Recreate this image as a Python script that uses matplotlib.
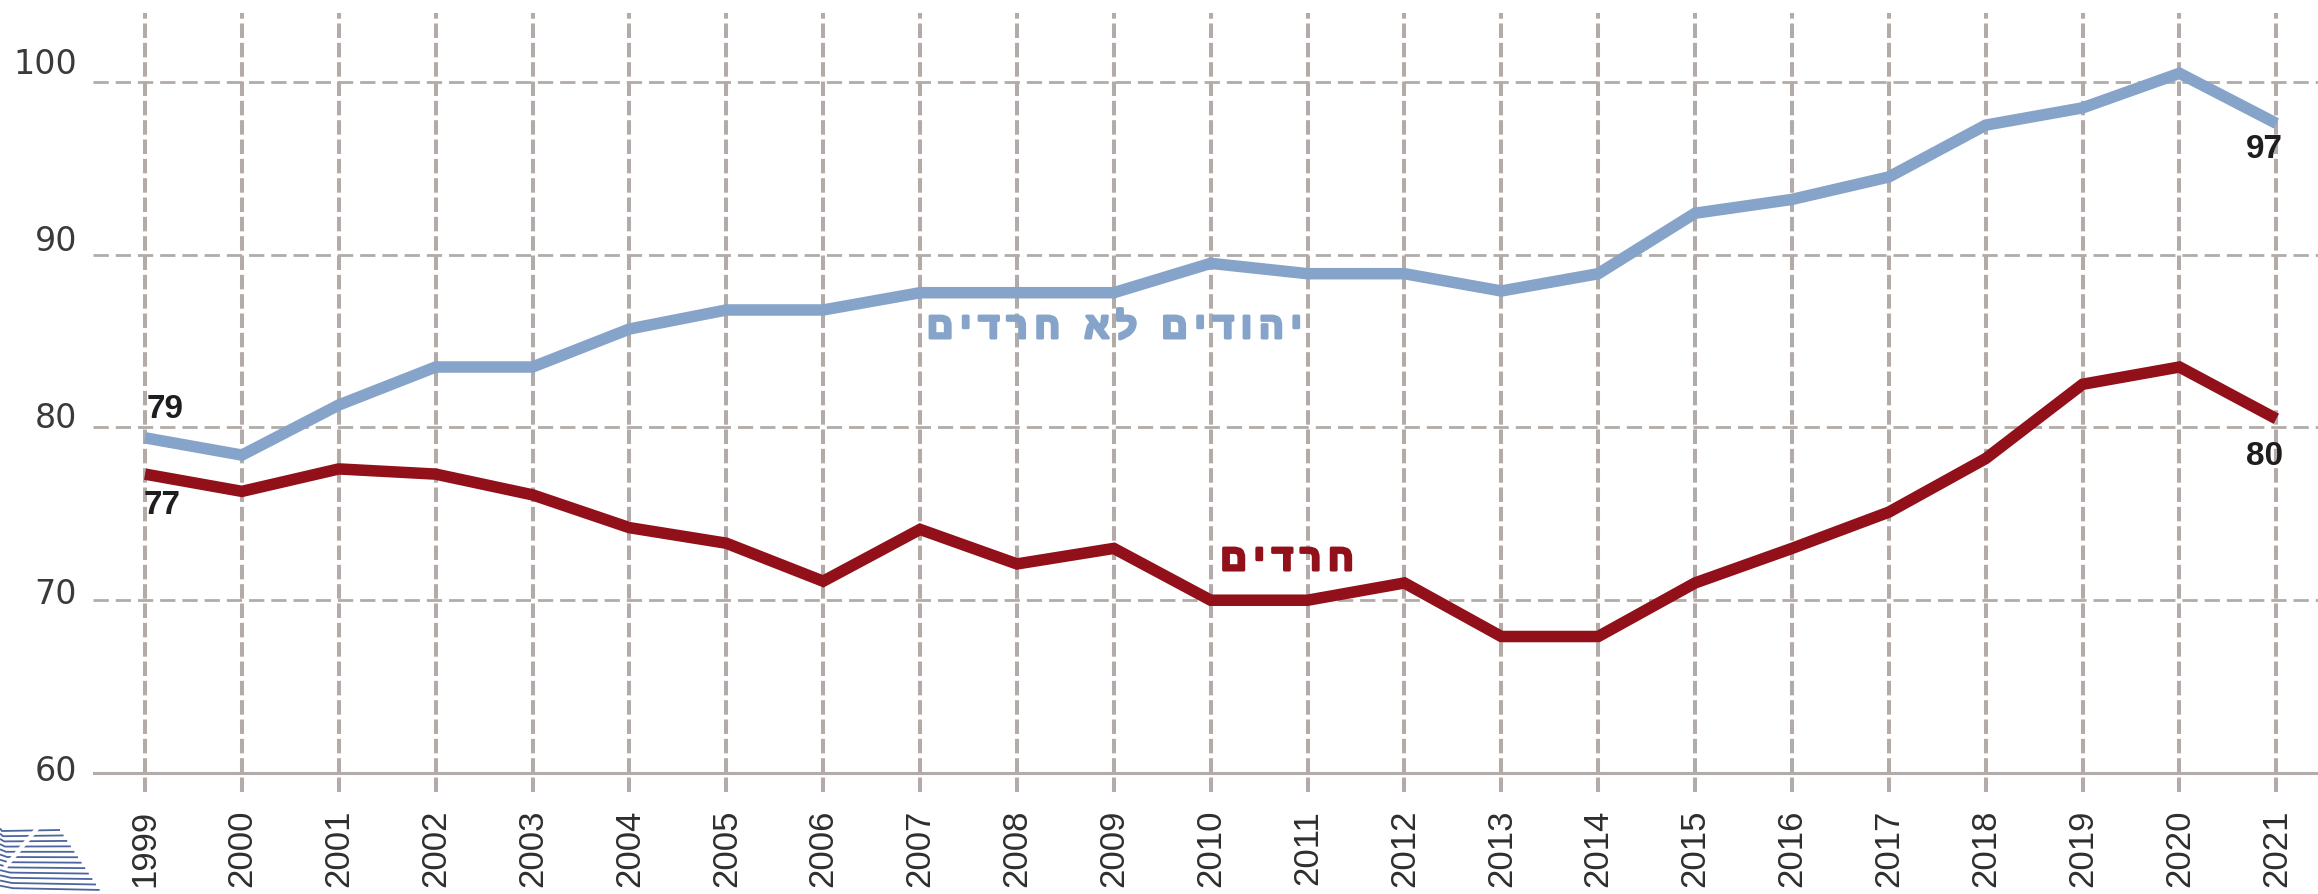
import matplotlib
matplotlib.use("Agg")
import matplotlib.pyplot as plt
import matplotlib.patheffects as pe
import numpy as np

# ---------------- data ----------------
years = list(range(1999, 2022))
non_haredi = [79.4, 78.4, 81.3, 83.5, 83.5, 85.7, 86.8, 86.8, 87.8, 87.8, 87.8, 89.5,
              88.9, 88.9, 87.9, 88.9, 92.4, 93.2, 94.5, 97.5, 98.5, 100.5, 97.6]
haredi = [77.3, 76.3, 77.6, 77.3, 76.1, 74.2, 73.3, 71.1, 74.1, 72.1, 73.0, 70.0,
          70.0, 71.0, 67.9, 67.9, 71.0, 73.0, 75.1, 78.2, 82.5, 83.5, 80.5]
yticks = [60, 70, 80, 90, 100]
label_non_haredi = "יהודים לא חרדים"
label_haredi = "חרדים"

BLUE = "#86A4C9"
RED = "#921019"
GRID = "#B2ABA8"
TXT = "#2E2E2E"

W, H = 2318, 895
fig = plt.figure(figsize=(W / 100, H / 100), dpi=100)
fig.patch.set_facecolor("white")

# axes occupies x 93..2318 px, y 14..793 px (from top)
ax = fig.add_axes([93 / W, (H - 793) / H, (W - 93) / W, (793 - 14) / H])
ax.set_xlim(1998.463, 2021.43)
ax.set_ylim(58.90, 103.99)
for s in ax.spines.values():
    s.set_visible(False)
ax.patch.set_visible(False)

# grid
for yr in years:
    ax.axvline(yr, color=GRID, lw=2.9, linestyle=(0, (3.6, 1.2)), zorder=1)
for v in yticks[1:]:
    ax.axhline(v, color=GRID, lw=2.0, linestyle=(0, (5.5, 2.5)), zorder=1)
ax.axhline(yticks[0], color=GRID, lw=2.2, linestyle="-", zorder=1)

# lines
ax.plot(years, non_haredi, color=BLUE, lw=8.3, solid_joinstyle="miter",
        solid_capstyle="butt", zorder=3)
ax.plot(years, haredi, color=RED, lw=8.3, solid_joinstyle="miter",
        solid_capstyle="butt", zorder=3)

# x ticks
ax.set_xticks(years)
ax.set_xticklabels([str(y) for y in years], rotation=90,
                   fontfamily="Liberation Sans", fontsize=25, color=TXT)
ax.tick_params(axis="x", length=0, pad=12)
ax.set_yticks([])

# y tick labels on a twin axis (labels sit slightly above their gridlines)
axl = ax.twinx()
axl.set_ylim(58.586, 102.66)
axl.set_yticks(yticks)
axl.set_yticklabels([str(v) for v in yticks], fontfamily="DejaVu Sans",
                    fontsize=24, color="#3A3A3A")
axl.yaxis.tick_left()
axl.tick_params(axis="y", length=0, pad=11.5)
for s in axl.spines.values():
    s.set_visible(False)
axl.patch.set_visible(False)

# end-point value labels
lab_font = dict(fontfamily="Liberation Sans", fontweight="bold", fontsize=24,
                color="#1E1E1E")
ax.annotate(str(int(non_haredi[0])), (years[0], non_haredi[0]), xytext=(1.5, 21),
            textcoords="offset points", ha="left", va="center", zorder=5, **lab_font)
ax.annotate(str(int(haredi[0])), (years[0], haredi[0]), xytext=(-1, -22),
            textcoords="offset points", ha="left", va="center", zorder=5, **lab_font)
ax.annotate(str(int(non_haredi[-1])), (years[-1], non_haredi[-1]), xytext=(5, -18),
            textcoords="offset points", ha="right", va="center", zorder=5, **lab_font)
ax.annotate(str(int(haredi[-1])), (years[-1], haredi[-1]), xytext=(5, -26.5),
            textcoords="offset points", ha="right", va="center", zorder=5, **lab_font)


def visual_rtl(s):
    # reverse for left-to-right rendering, with a little letter spacing
    return "\u2009".join(list(s[::-1]))


# series labels (Hebrew)
heb_font = dict(fontfamily=["Liberation Sans", "DejaVu Sans"], fontweight="bold",
                fontsize=26)
t1 = ax.text(2009.01, 85.18, visual_rtl(label_non_haredi), color=BLUE, ha="center",
             va="baseline", zorder=5, **heb_font)
t1.set_path_effects([pe.withStroke(linewidth=2.2, foreground=BLUE)])
t2 = ax.text(2010.79, 71.75, visual_rtl(label_haredi), color=RED, ha="center",
             va="baseline", zorder=5, **heb_font)
t2.set_path_effects([pe.withStroke(linewidth=2.2, foreground=RED)])

# small logo approximation, bottom-left
lg = fig.add_axes([0, 0, 110 / W, 90 / H])
lg.set_xlim(0, 110)
lg.set_ylim(90, 0)
lg.axis("off")
for i in range(12):
    y = 27 + i * 5.2
    vx = 2 + i * 1.0
    xe = 60 + i * 3.6
    xs = np.array([0, vx, xe])
    ys = np.array([y - 2.5, y, y + i * 0.25 - 1])
    lg.plot(xs, ys, color="#2D4A8C", lw=1.3, alpha=0.85, solid_capstyle="butt")
lg.plot([36, 6], [26, 62], color="white", lw=3)

fig.savefig("out.png", dpi=100, facecolor="white")
